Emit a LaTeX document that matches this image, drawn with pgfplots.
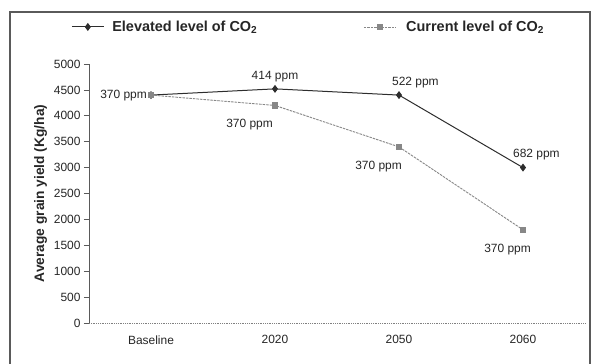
\documentclass[border=0pt]{standalone}
\usepackage{fontspec}
\setmainfont{Liberation Sans}
\usepackage{pgfplots}
\pgfplotsset{compat=1.18}
\definecolor{elev}{RGB}{45,45,45}
\definecolor{curr}{RGB}{135,135,135}
\definecolor{frame}{RGB}{90,90,90}
\begin{document}
\begin{tikzpicture}
\useasboundingbox (-89bp,-41bp) rectangle (503bp,323bp);
\draw[frame, line width=1.2bp] (-79bp,-41bp) -- (-79bp,311bp) -- (501bp,311bp) -- (501bp,-41bp);
\begin{axis}[
  at={(0,0)}, anchor=south west,
  scale only axis, width=496bp, height=259bp,
  xmin=-0.5, xmax=3.5, ymin=0, ymax=5000,
  xtick=data, xticklabels={Baseline,2020,2050,2060},
  ytick={0,500,...,5000},
  axis x line*=bottom, axis y line*=left,
  x axis line style={densely dotted, gray, -, line width=0.8bp},
  y axis line style={frame, -, line width=0.7bp},
  x tick style={draw=none},
  y tick style={frame, line width=0.7bp},
  tick align=outside, major tick length=5bp,
  /pgf/number format/assume math mode=true,
  yticklabel style={/pgf/number format/1000 sep={}},
  tick label style={font=\fontsize{12}{14}\selectfont, text=black!85},
  xticklabel style={yshift=-4bp},
  ylabel={\textbf{Average grain yield (Kg/ha)}},
  ylabel style={font=\fontsize{13.8}{15}\selectfont, text=black!85},
  legend columns=2,
  legend style={draw=none, fill=none, at={(axis description cs:-0.036,1.143)}, anchor=west,
    font=\fontsize{14.5}{16}\selectfont\bfseries, text=black!85, inner sep=0pt,
    /tikz/every even column/.append style={column sep=104bp}},
  legend image code/.code={\draw[mark repeat=2, mark phase=2, #1] plot coordinates {(0bp,0bp) (16bp,0bp) (32bp,0bp)};},
  clip=false,
]
\addplot[elev, line width=1bp, mark=diamond*, mark size=3.2bp, mark options={solid}]
  coordinates {(0,4400) (1,4520) (2,4400) (3,3000)};
\addlegendentry{\hspace{6bp}Elevated level of CO\textsubscript{2}}
\addplot[curr, line width=0.9bp, dash pattern=on 2.5bp off 1bp, mark=square*, mark size=2.6bp, mark options={solid}]
  coordinates {(0,4400) (1,4200) (2,3400) (3,1800)};
\addlegendentry{\hspace{8bp}Current level of CO\textsubscript{2}}
\begin{scope}[every node/.style={font=\fontsize{12}{14}\selectfont, text=black!85, inner sep=0pt}]
\node[anchor=east] at ([xshift=-4bp]axis cs:0,4400) {370 ppm};
\node[anchor=center] at ([yshift=12bp]axis cs:1,4520) {414 ppm};
\node[anchor=west] at ([xshift=-7bp,yshift=13bp]axis cs:2,4400) {522 ppm};
\node[anchor=west] at ([xshift=-10bp,yshift=13bp]axis cs:3,3000) {682 ppm};
\node[anchor=east] at ([xshift=-2bp,yshift=-19bp]axis cs:1,4200) {370 ppm};
\node[anchor=east] at ([xshift=3bp,yshift=-20bp]axis cs:2,3400) {370 ppm};
\node[anchor=east] at ([xshift=8bp,yshift=-20bp]axis cs:3,1800) {370 ppm};
\end{scope}
\end{axis}
\end{tikzpicture}
\end{document}
